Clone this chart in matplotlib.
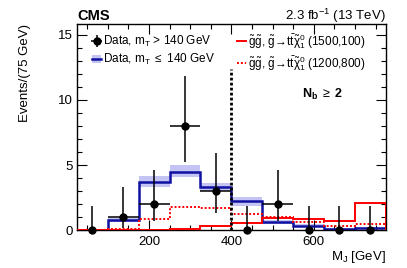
import numpy as np
import matplotlib
matplotlib.use("Agg")
from matplotlib import pyplot as plt
from matplotlib.lines import Line2D
from matplotlib.patches import Patch

plt.rcParams['font.family'] = ['Liberation Sans', 'DejaVu Sans']
plt.rcParams['mathtext.fontset'] = 'custom'
plt.rcParams['mathtext.rm'] = 'Liberation Sans'
plt.rcParams['mathtext.it'] = 'Liberation Sans:italic'
plt.rcParams['mathtext.bf'] = 'Liberation Sans:bold'

# bin edges in M_J [GeV]
edges = [25, 100, 175, 250, 325, 400, 475, 550, 625, 700, 775]

# data, mT > 140 GeV
data_counts = [0, 1, 2, 8, 3, 0, 2, 0, 0, 0]
data_err_lo = [0, 0.83, 1.29, 2.77, 1.63, 0, 1.29, 0, 0, 0]
data_err_hi = [1.84, 2.30, 2.64, 3.82, 2.92, 1.84, 2.64, 1.84, 1.84, 1.84]

# data, mT <= 140 GeV (normalized) and its band
low_mt = [0, 0.82, 3.7, 4.5, 3.3, 2.25, 0.67, 0.37, 0.14, 0.2]
low_mt_lo = [0, 0.68, 3.3, 4.1, 3.0, 1.9, 0.52, 0.28, 0.08, 0.12]
low_mt_hi = [0, 0.96, 4.15, 5.0, 3.65, 2.6, 0.82, 0.46, 0.2, 0.28]

# signal models
sig_1500_100 = [0, 0, 0.03, 0.12, 0.35, 0.55, 0.93, 0.85, 0.75, 2.1]
sig_1200_800 = [0, 0.1, 0.85, 1.8, 1.7, 1.26, 1.0, 0.67, 0.34, 0.5]

edges = np.array(edges)
centers = (edges[:-1] + edges[1:]) / 2
halfw = (edges[1:] - edges[:-1]) / 2
counts = np.array(data_counts)
xerr = np.where(counts > 0, halfw, 0)

fig = plt.figure(figsize=(4.07, 2.68), dpi=100)
ax = fig.add_axes([0.189, 0.14, 0.759, 0.77])

blue = '#1010a0'
ax.stairs(low_mt_hi, edges, baseline=low_mt_lo, fill=True, color='#c4c4f4', lw=0, zorder=1)
ax.stairs(low_mt, edges, color=blue, lw=1.8, zorder=2)
ax.stairs(sig_1500_100, edges, color='red', lw=1.4, zorder=3)
ax.stairs(sig_1200_800, edges, color='red', lw=1.4, ls=(0, (1, 1)), zorder=3)
ax.vlines(400, 0, 12.4, color='black', lw=2.0, ls=(0, (1, 0.8)), zorder=4)
eb = ax.errorbar(centers, counts, xerr=xerr, yerr=[data_err_lo, data_err_hi],
                 fmt='o', color='black', ms=5, lw=1.1, capsize=0, zorder=5,
                 clip_on=False)

ax.set_xlim(25, 775)
ax.set_ylim(0, 15.8)
ax.set_xticks([200, 400, 600])
ax.set_xticks(np.arange(50, 776, 50), minor=True)
ax.set_yticks([0, 5, 10, 15])
ax.set_yticks(np.arange(0, 16, 1), minor=True)
ax.tick_params(which='both', direction='in', top=True, right=True, labelsize=9.5)
ax.tick_params(which='major', length=7, width=0.8)
ax.tick_params(which='minor', length=3.5, width=0.8)
ax.tick_params(axis='x', pad=4)
ax.tick_params(axis='y', pad=3)
for s in ax.spines.values():
    s.set_linewidth(1.0)

ax.set_ylabel('Events/(75 GeV)', fontsize=9.5, loc='top', labelpad=19)
ax.set_xlabel(r'M$_\mathrm{J}$ [GeV]', fontsize=9.5, loc='right', labelpad=1)

fig.text(0.189, 0.925, 'CMS', fontsize=10.5, fontweight='bold', ha='left', va='baseline')
fig.text(0.948, 0.925, r'2.3 fb$^{-1}$ (13 TeV)', fontsize=9.5, ha='right', va='baseline')
ax.text(0.727, 0.66, r'$\mathbf{N_{b}}$ $\geq$ $\mathbf{2}$', transform=ax.transAxes,
        fontsize=9, fontweight='bold', ha='left', va='center')

h_blue = (Patch(facecolor='#c4c4f4', edgecolor='none'), Line2D([], [], color=blue, lw=1.8))
h_r1 = Line2D([], [], color='red', lw=1.4)
h_r2 = Line2D([], [], color='red', lw=1.4, ls=(0, (1, 1)))
sig = r'$\mathrm{\tilde{g}\tilde{g}}$, $\mathrm{\tilde{g}\!\rightarrow\! t\bar{t}\tilde{\chi}^{0}_{1}}$'
labels = [r'Data, m$_\mathrm{T}$ > 140 GeV', r'Data, m$_\mathrm{T}$ $\leq$ 140 GeV',
          sig + ' (1500,100)', sig + ' (1200,800)']
ax.legend([eb, h_blue, h_r1, h_r2], labels, ncol=2, loc='upper left',
          bbox_to_anchor=(0.035, 0.985), frameon=False, fontsize=8.5,
          handlelength=0.7, handletextpad=0.2, columnspacing=1.9,
          labelspacing=0.25, borderaxespad=0.0)

fig.savefig('out.png', dpi=100)
